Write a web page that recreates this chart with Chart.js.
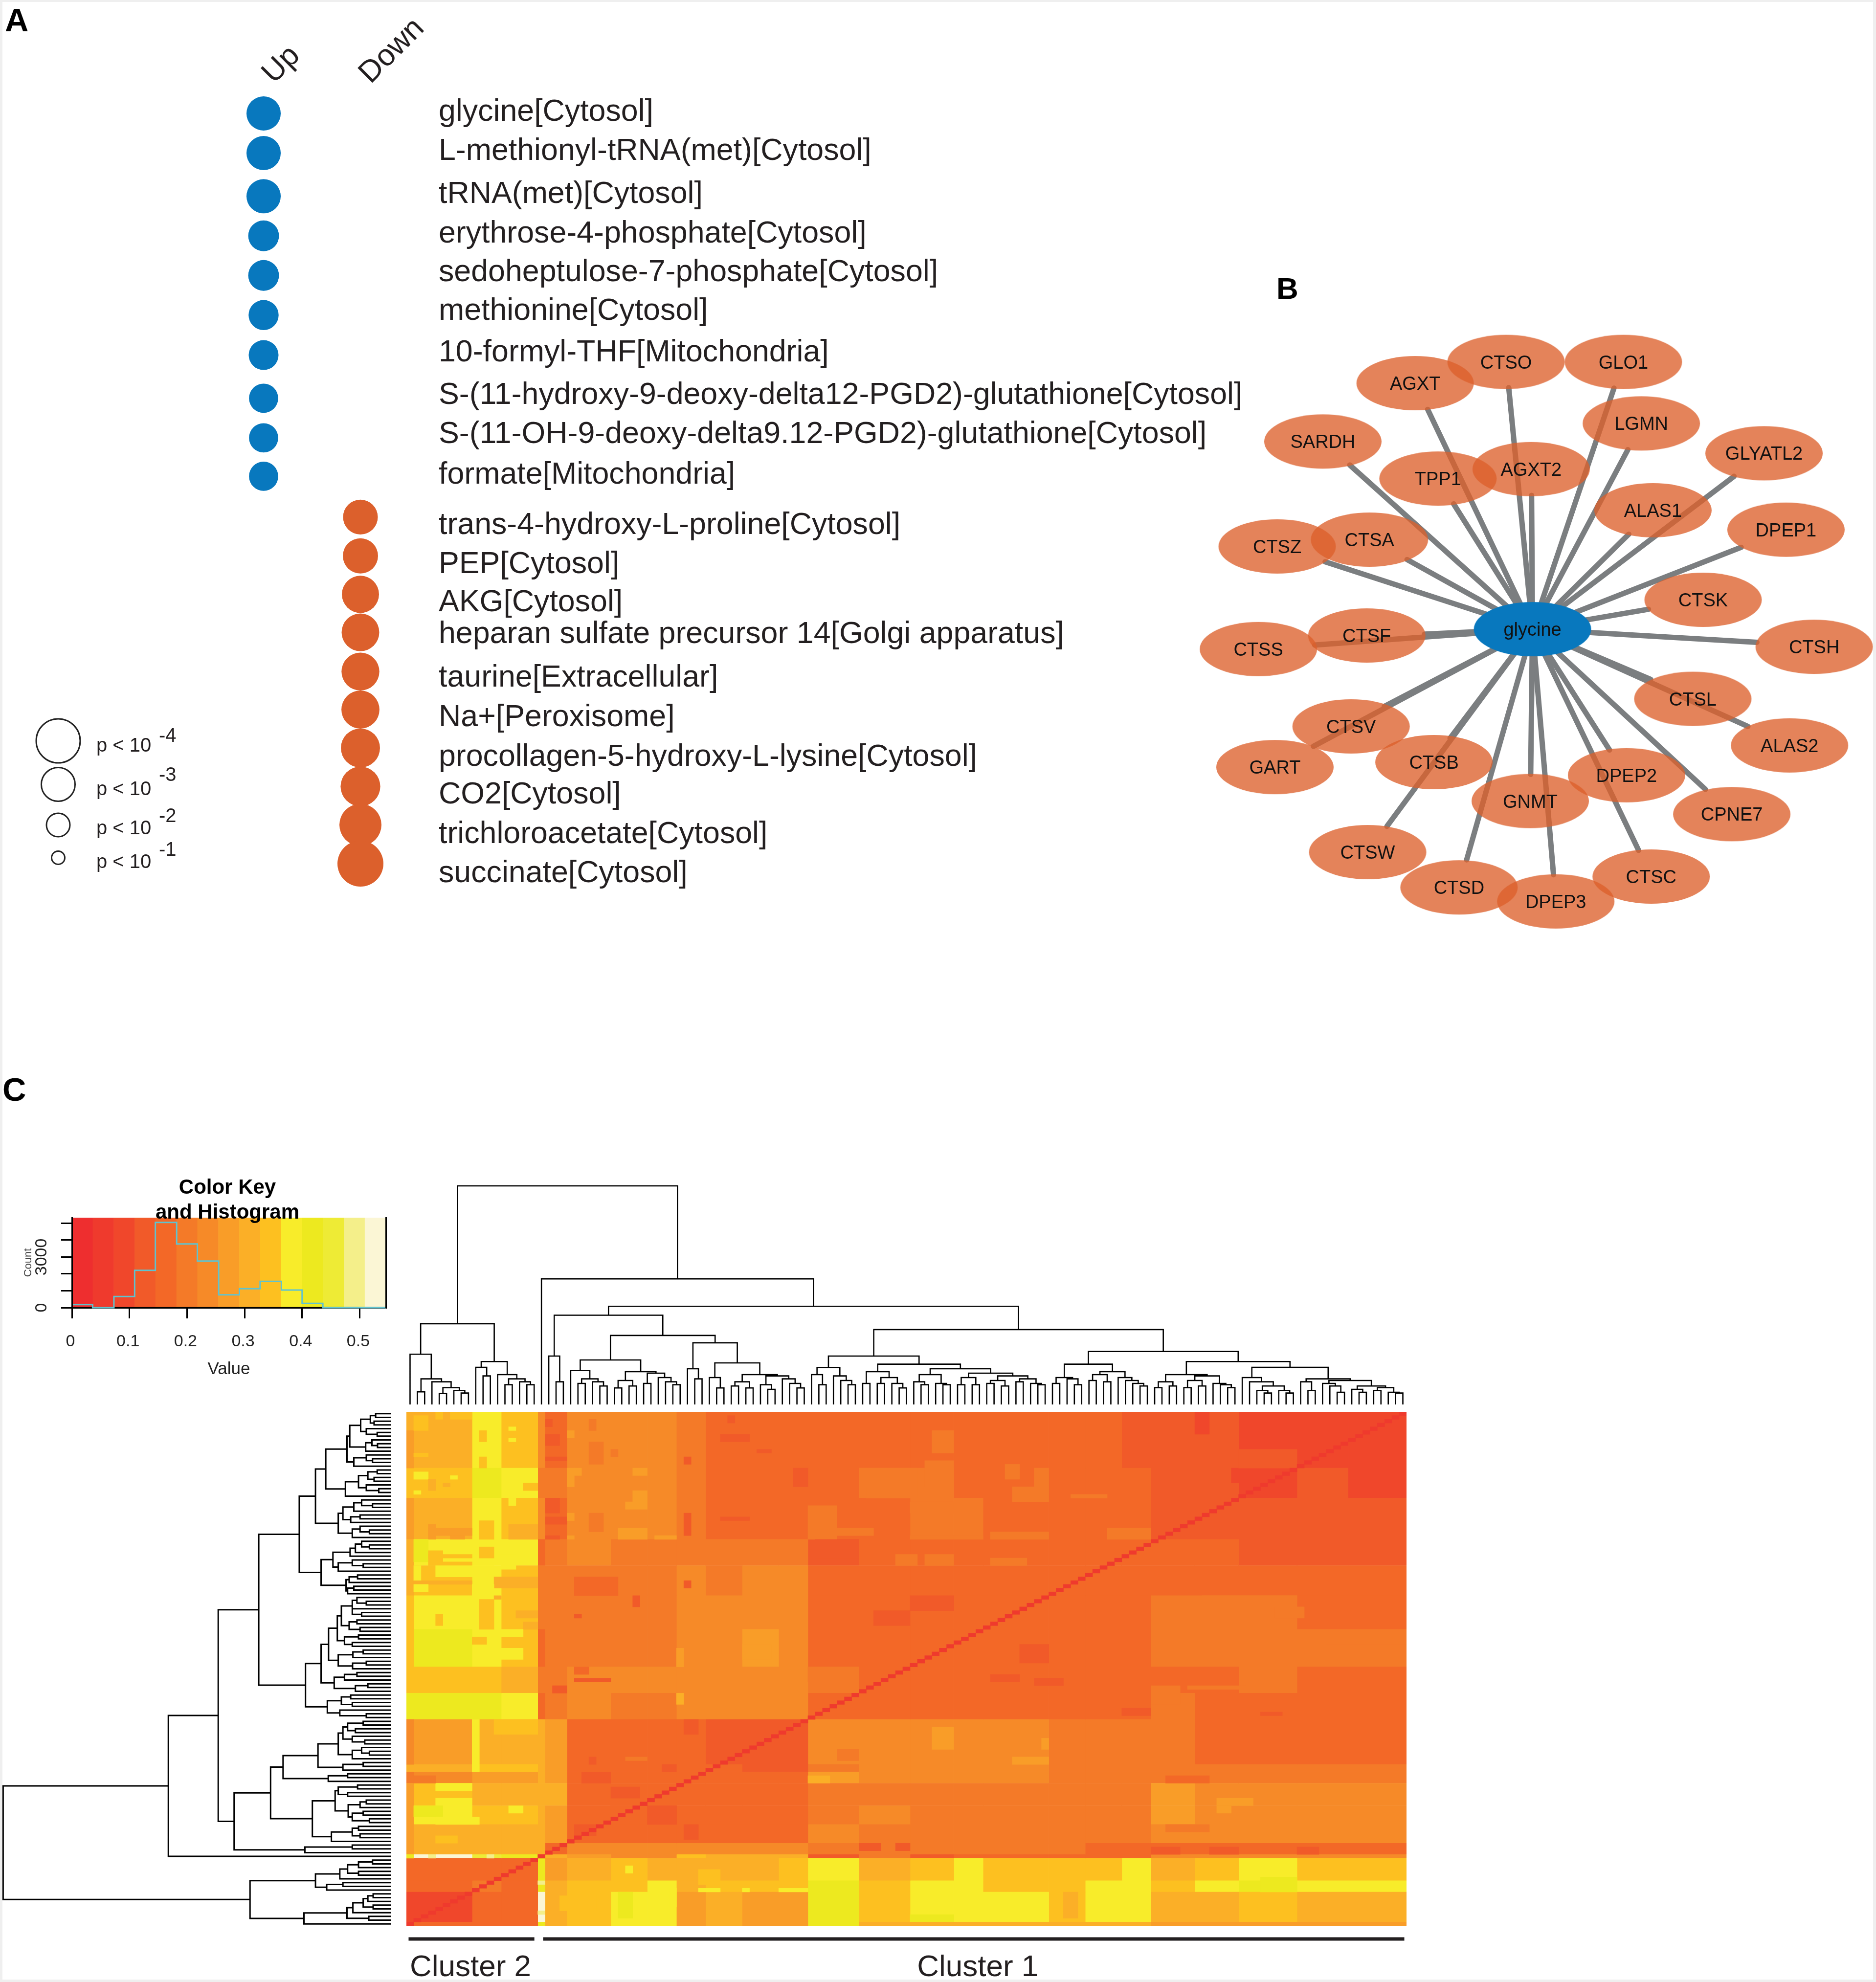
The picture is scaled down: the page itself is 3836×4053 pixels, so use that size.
<!DOCTYPE html>
<html>
<head>
<meta charset="utf-8">
<title>Metabolites, glycine network and clustering</title>
<script src="https://cdn.jsdelivr.net/npm/chart.js@4/dist/chart.umd.min.js"></script>
<style>
  html, body { margin: 0; background: #efefef; }
  #page { position: absolute; left: 5px; top: 4px; width: 3825px; height: 4044px; background: #fff; }
  canvas { position: absolute; }
  .panel { position: absolute; font-family: 'Liberation Sans'; font-weight: bold; line-height: 1; color: #000; }
</style>
</head>
<body>
<div id="page"></div>
<div class="panel" style="left:10px;top:7px;font-size:67px">A</div>
<div class="panel" style="left:2610px;top:559px;font-size:62px">B</div>
<div class="panel" style="left:5px;top:2194px;font-size:67px">C</div>
<canvas id="metabolites" style="left:0;top:0" width="2560" height="1950"></canvas>
<canvas id="pLegend" style="left:0;top:1400px" width="400" height="440"></canvas>
<canvas id="network" style="left:2400px;top:520px" width="1436" height="1450"></canvas>
<canvas id="colorKey" style="left:0;top:2402px" width="900" height="440"></canvas>
<canvas id="colDendro" style="left:831px;top:2380px" width="2045" height="492"></canvas>
<canvas id="rowDendro" style="left:0;top:2887px" width="800" height="1051"></canvas>
<canvas id="heatmap" style="left:831px;top:2887px" width="2045" height="1051"></canvas>
<canvas id="clusters" style="left:831px;top:3950px" width="2045" height="100"></canvas>
<script>
// panel A: metabolites, rows are read in units of one row pitch
const metaboliteNames = ['glycine[Cytosol]', 'L-methionyl-tRNA(met)[Cytosol]', 'tRNA(met)[Cytosol]', 'erythrose-4-phosphate[Cytosol]',
  'sedoheptulose-7-phosphate[Cytosol]', 'methionine[Cytosol]', '10-formyl-THF[Mitochondria]',
  'S-(11-hydroxy-9-deoxy-delta12-PGD2)-glutathione[Cytosol]', 'S-(11-OH-9-deoxy-delta9.12-PGD2)-glutathione[Cytosol]',
  'formate[Mitochondria]', 'trans-4-hydroxy-L-proline[Cytosol]', 'PEP[Cytosol]', 'AKG[Cytosol]',
  'heparan sulfate precursor 14[Golgi apparatus]', 'taurine[Extracellular]', 'Na+[Peroxisome]',
  'procollagen-5-hydroxy-L-lysine[Cytosol]', 'CO2[Cytosol]', 'trichloroacetate[Cytosol]', 'succinate[Cytosol]'];
const labelRows = [-0.03, 0.96, 2.05, 3.04, 4.02, 5.0, 6.04, 7.12, 8.11, 9.13, 10.41, 11.39, 12.36, 13.16, 14.26, 15.26, 16.26, 17.21, 18.21, 19.2];
const upRows = [0, 1, 2.09, 3.09, 4.09, 5.09, 6.1, 7.19, 8.19, 9.16];
const upLogP = [3.05, 3.05, 3.05, 2.71, 2.71, 2.64, 2.62, 2.56, 2.56, 2.56];
const downRows = [10.19, 11.17, 12.14, 13.1, 14.09, 15.05, 16.02, 16.99, 17.96, 18.94];
const downLogP = [3.1, 3.14, 3.33, 3.38, 3.4, 3.42, 3.52, 3.58, 3.81, 4.19];
const directionNames = ['Up', 'Down'];

// p value legend
const legendExponents = [4, 3, 2, 1];
const legendCircleRows = [65, 154, 237, 304];
const legendTextRows = [76, 165, 245, 314];
const legendExpRows = [56, 136, 220, 289];

// panel B: network layout
const hubName = 'glycine';
const hubX = [801];
const hubY = [829];
const nodeNames = ['CTSO', 'GLO1', 'AGXT', 'LGMN', 'SARDH', 'GLYATL2', 'TPP1', 'AGXT2', 'ALAS1', 'DPEP1', 'CTSZ', 'CTSA', 'CTSK', 'CTSH', 'CTSS',
  'CTSF', 'CTSL', 'ALAS2', 'CTSV', 'GART', 'CTSB', 'DPEP2', 'GNMT', 'CPNE7', 'CTSW', 'CTSC', 'CTSD', 'DPEP3'];
const nodeX = [742, 1004, 539, 1044, 333, 1318, 590, 798, 1070, 1367, 231, 437, 1182, 1430, 189, 431, 1159, 1375, 396, 226, 581, 1011, 796, 1246, 433, 1066, 637, 853];
const nodeY = [238, 238, 285, 374, 414, 440, 496, 475, 566, 609, 646, 631, 764, 868, 873, 843, 983, 1086, 1044, 1134, 1123, 1152, 1209, 1238, 1322, 1376, 1400, 1431];
const edgeEndX = [748, 983, 567, 1014, 393, 1251, 625, 799, 1016, 1267, 338, 521, 1060, 1302, 315, 560, 1065, 1282, 470, 312, 617, 973, 797, 1187, 476, 1038, 654, 848];
const edgeEndY = [295, 296, 343, 432, 466, 491, 552, 533, 619, 648, 680, 675, 785, 858, 864, 840, 940, 1044, 1000, 1088, 1070, 1096, 1150, 1183, 1265, 1318, 1339, 1372];

// panel C: colour key and histogram
const keyColors = ['#ee2e2f', '#ef3a2d', '#f0472b', '#f15a29', '#f36827', '#f47a28', '#f68a28', '#f99d28', '#fbaf27', '#fdc020', '#f8ec2a', '#ede91f', '#eeeb35', '#f4ef8a', '#fbf6d5'];
const histBreaks = [0, 0.036, 0.073, 0.109, 0.145, 0.182, 0.218, 0.255, 0.291, 0.327, 0.364, 0.4, 0.436, 0.473, 0.509, 0.5455];
const histCounts = [180, 0, 660, 2210, 5050, 3770, 2760, 760, 1120, 1560, 1040, 250, 0, 0, 0, 0];
const valueTicks = [0, 0.1, 0.2, 0.3, 0.4, 0.5];
const countTicks = [0, 1000, 2000, 3000, 4000, 5000];
const countTop = 5330;

// panel C: heatmap blocks, each entry is a colour key bin
const leafCount = 137;
const columnEdges = [0, 9, 13, 18, 19, 22, 28, 33, 37, 41, 46, 51, 55, 62, 69, 75, 79, 88, 93, 98, 102, 108, 114, 122, 129, 137];
const rowEdges = [0, 15, 23, 34, 41, 49, 58, 68, 75, 82, 94, 96, 99, 105, 110, 115, 118, 119, 125, 128, 137];
const heatBins = [
  [8, 10, 9, 6, 4, 6, 6, 6, 5, 4, 4, 4, 4, 4, 4, 4, 4, 4, 4, 3, 3, 3, 2, 2, 2],
  [9, 11, 10, 5, 5, 6, 6, 6, 5, 4, 4, 4, 4, 5, 5, 4, 4, 4, 4, 4, 3, 3, 2, 3, 2],
  [8, 10, 9, 6, 4, 6, 6, 6, 5, 4, 4, 4, 4, 4, 5, 5, 4, 4, 4, 4, 3, 3, 3, 3, 3],
  [10, 10, 10, 4, 5, 6, 5, 5, 5, 5, 5, 5, 3, 4, 4, 4, 4, 4, 4, 4, 4, 4, 3, 3, 3],
  [9, 10, 9, 5, 5, 5, 5, 5, 6, 5, 6, 6, 4, 4, 4, 4, 4, 4, 4, 4, 4, 4, 4, 4, 4],
  [10, 10, 9, 5, 5, 5, 5, 5, 6, 6, 6, 6, 4, 4, 4, 4, 4, 4, 4, 4, 5, 5, 5, 4, 4],
  [11, 10, 9, 4, 5, 5, 5, 5, 6, 6, 7, 6, 4, 4, 4, 4, 4, 4, 4, 4, 5, 5, 5, 5, 5],
  [9, 9, 8, 5, 5, 6, 6, 6, 6, 6, 6, 6, 5, 4, 4, 4, 4, 4, 4, 4, 4, 4, 5, 4, 4],
  [11, 11, 10, 4, 5, 6, 5, 5, 6, 6, 6, 6, 4, 4, 4, 4, 4, 4, 4, 4, 5, 4, 4, 4, 4],
  [7, 8, 8, 8, 7, 4, 4, 4, 4, 3, 3, 3, 6, 6, 6, 6, 6, 5, 5, 5, 5, 4, 4, 4, 4],
  [8, 9, 9, 8, 7, 4, 4, 4, 4, 4, 3, 3, 5, 6, 6, 6, 6, 5, 5, 5, 5, 5, 5, 5, 5],
  [6, 7, 7, 8, 7, 4, 4, 4, 4, 4, 4, 4, 7, 6, 6, 6, 6, 5, 5, 5, 5, 5, 5, 5, 5],
  [9, 8, 8, 8, 8, 4, 4, 4, 4, 4, 4, 4, 5, 5, 5, 5, 5, 5, 5, 5, 7, 6, 6, 6, 6],
  [10, 9, 9, 8, 7, 4, 4, 3, 4, 4, 4, 4, 5, 6, 5, 5, 5, 5, 5, 5, 7, 6, 6, 6, 6],
  [8, 8, 8, 8, 7, 4, 4, 4, 4, 4, 4, 4, 6, 5, 5, 5, 5, 5, 5, 5, 6, 6, 6, 6, 6],
  [8, 8, 8, 8, 4, 6, 6, 6, 6, 6, 6, 6, 5, 5, 5, 5, 5, 5, 4, 4, 4, 4, 4, 4, 4],
  [14, 12, 11, 0, 8, 7, 6, 6, 9, 8, 8, 8, 3, 5, 3, 4, 4, 4, 4, 4, 6, 6, 6, 6, 6],
  [4, 4, 4, 11, 7, 8, 9, 8, 8, 8, 8, 9, 10, 8, 9, 10, 9, 9, 9, 10, 8, 9, 10, 9, 9],
  [4, 5, 4, 11, 8, 9, 9, 10, 8, 9, 9, 9, 11, 9, 10, 10, 9, 9, 10, 10, 9, 10, 11, 10, 10],
  [2, 4, 4, 14, 8, 9, 10, 10, 7, 8, 7, 7, 11, 9, 10, 10, 10, 9, 10, 10, 8, 8, 9, 8, 8]
];
// smaller patches seen inside the blocks: first column, end column, first row, end row, bin
const heatPatches = [
  [0, 1, 5, 15, 7], [0, 1, 23, 34, 7], [0, 1, 34, 49, 8], [0, 1, 49, 68, 9], [0, 1, 82, 94, 6], [0, 1, 96, 99, 5], [0, 1, 99, 118, 7], [0, 1, 118, 119, 11],
  [1, 3, 1, 5, 9], [4, 5, 0, 2, 9], [6, 9, 0, 2, 9], [1, 3, 11, 12, 9], [10, 11, 5, 8, 9], [10, 11, 12, 15, 9], [14, 15, 4, 5, 10], [14, 15, 7, 8, 10],
  [1, 3, 16, 18, 10], [6, 7, 17, 18, 10], [3, 4, 18, 21, 8], [5, 6, 19, 20, 8], [16, 18, 19, 21, 9], [1, 2, 21, 22, 10], [14, 15, 23, 25, 10],
  [3, 9, 31, 33, 7], [3, 4, 30, 34, 7], [6, 8, 33, 34, 7], [14, 18, 30, 34, 8], [10, 12, 29, 34, 9], [1, 3, 34, 40, 11], [3, 5, 37, 40, 9], [3, 9, 38, 39, 9],
  [3, 9, 40, 41, 9], [10, 12, 36, 39, 9], [13, 15, 38, 42, 10], [1, 2, 41, 45, 10], [4, 12, 41, 44, 10], [1, 9, 45, 46, 8], [12, 18, 44, 47, 8],
  [1, 3, 46, 48, 10], [9, 12, 46, 49, 10], [12, 13, 49, 50, 8], [10, 12, 50, 58, 9], [15, 18, 53, 55, 8], [16, 18, 56, 58, 8], [4, 5, 54, 57, 9],
  [13, 16, 58, 60, 10], [9, 11, 60, 62, 9], [13, 16, 63, 66, 10], [4, 7, 63, 65, 11], [9, 10, 82, 96, 10], [12, 18, 82, 86, 9], [11, 18, 94, 96, 9],
  [4, 9, 99, 101, 10], [4, 9, 103, 105, 10], [1, 5, 105, 108, 11], [4, 10, 108, 110, 10], [14, 16, 105, 107, 10], [1, 4, 97, 99, 5], [4, 7, 113, 115, 9],
  [3, 4, 118, 119, 13], [11, 12, 118, 119, 13], [18, 19, 125, 126, 13], [18, 19, 133, 134, 13], [18, 19, 136, 137, 11], [0, 1, 136, 137, 3], [1, 18, 136, 137, 4],
  [19, 20, 2, 4, 3], [19, 21, 6, 9, 3], [19, 22, 12, 13, 3], [19, 21, 23, 27, 3], [19, 22, 28, 30, 3], [19, 21, 33, 34, 3], [22, 23, 5, 7, 7], [22, 23, 15, 20, 7],
  [23, 24, 15, 17, 7], [22, 23, 27, 29, 7], [22, 23, 33, 34, 7], [25, 26, 2, 5, 5], [25, 27, 8, 14, 5], [25, 27, 27, 32, 5], [28, 29, 10, 12, 5],
  [30, 33, 24, 26, 7], [29, 33, 31, 34, 7], [31, 33, 15, 17, 7], [31, 33, 21, 24, 7], [34, 37, 33, 34, 7], [38, 39, 27, 33, 3], [38, 39, 12, 14, 3],
  [43, 47, 6, 8, 3], [44, 45, 1, 3, 3], [53, 55, 15, 20, 3], [43, 47, 28, 29, 3], [48, 50, 10, 11, 3], [23, 29, 44, 49, 4], [38, 39, 45, 47, 3], [31, 32, 49, 52, 3],
  [23, 24, 54, 55, 3], [46, 50, 62, 66, 7], [37, 38, 63, 68, 7], [20, 22, 73, 75, 3], [23, 25, 68, 70, 4], [23, 28, 71, 72, 3], [37, 38, 75, 78, 8],
  [25, 26, 92, 94, 3], [38, 40, 82, 86, 3], [30, 33, 92, 93, 5], [35, 37, 94, 96, 3], [24, 28, 96, 99, 3], [28, 32, 100, 103, 3], [33, 37, 105, 110, 3],
  [28, 31, 105, 109, 4], [23, 26, 110, 113, 3], [38, 40, 110, 114, 3], [40, 43, 122, 126, 9], [30, 31, 121, 123, 10], [29, 31, 128, 135, 11], [36, 37, 127, 132, 10],
  [21, 26, 129, 133, 9], [40, 43, 127, 128, 10], [46, 47, 127, 128, 10], [51, 55, 127, 128, 10],
  [72, 75, 5, 11, 5], [62, 70, 15, 20, 5], [71, 75, 13, 20, 5], [82, 84, 14, 18, 5], [86, 88, 15, 20, 5], [63, 70, 20, 23, 5], [83, 88, 20, 24, 5], [91, 96, 22, 23, 5],
  [69, 75, 24, 27, 5], [55, 59, 25, 34, 5], [59, 64, 31, 33, 5], [69, 79, 33, 34, 5], [80, 88, 32, 34, 5], [96, 102, 31, 34, 5], [56, 62, 34, 39, 3], [67, 70, 38, 41, 5],
  [71, 75, 38, 41, 5], [80, 85, 39, 41, 5], [69, 75, 49, 53, 3], [64, 69, 53, 57, 3], [84, 88, 62, 67, 3], [80, 84, 70, 72, 3], [86, 90, 71, 73, 3], [55, 62, 68, 72, 5],
  [109, 116, 49, 52, 5], [116, 122, 49, 51, 5], [119, 123, 52, 55, 5], [126, 137, 62, 64, 5], [102, 106, 73, 78, 5], [107, 115, 73, 74, 5], [116, 120, 12, 14, 3],
  [113, 119, 15, 19, 2], [108, 110, 0, 6, 2], [116, 124, 1, 10, 2], [114, 122, 10, 15, 3],
  [72, 75, 84, 90, 7], [87, 88, 87, 90, 7], [55, 58, 97, 99, 8], [59, 62, 90, 93, 5], [83, 88, 92, 94, 7], [111, 116, 103, 105, 7], [111, 113, 105, 107, 7], [104, 110, 110, 112, 5],
  [104, 110, 97, 99, 4], [62, 65, 115, 117, 3], [67, 69, 115, 117, 3], [102, 106, 116, 118, 3], [110, 114, 116, 118, 3], [122, 125, 116, 118, 3], [117, 120, 80, 81, 3],
  [98, 102, 79, 81, 3], [69, 75, 134, 136, 11], [90, 92, 128, 135, 8], [117, 122, 124, 128, 11], [62, 102, 136, 137, 8], [102, 137, 136, 137, 7]
];
const diagonalBin = 1;

// dendrograms: a merge is [height, left, right], a leaf is 0
const colTree = [1340,
  [495,
    [308, 0, [157, [77, 0, 0], [139, 0, [103, [67, 0, 0], [85, 0, [70, 0, 0]]]]]],
    [263, [228, 0, [175, 0, 0]], [183, 0, [157, [121, 0, 0], [139, 0, [121, 0, 0]]]]]],
  [770, 0,
    [602,
      [547,
        [297, 0, [139, 0, 0]],
        [423,
          [273,
            [209, 0, [157, [129, 0, 0], [139, 0, [113, 0, 0]]]],
            [201, [147, [101, 0, 0], [113, 0, 0]], [192, [129, 0, 0], [165, 0, [139, 0, [121, 0, 0]]]]]],
          [378,
            [219, 0, [157, 0, 0]],
            [255,
              [165, 0, [101, 0, 0]],
              [183,
                [139, [113, 0, 0], [101, 0, 0]],
                [175, [121, 0, [93, 0, 0]], [157, 0, [129, 0, [101, 0, 0]]]]]]]]],
      [459,
        [297,
          [227, [183, 0, [121, 0, 0]], [175, 0, [147, 0, [121, 0, 0]]]],
          [247,
            [201, [129, 0, 0], [165, [129, 0, 0], [129, 0, [101, 0, 0]]]],
            [219,
              [183, [139, 0, [121, 0, 0]], [129, 0, [121, 0, 0]]],
              [192,
                [165, [121, 0, 0], [121, 0, 0]],
                [175, [147, [129, 0, 0], [113, 0, 0]], [157, [139, 0, 0], [129, 0, [121, 0, 0]]]]]]]],
        [325,
          [247,
            [165, [129, 0, 0], [157, 0, [121, 0, 0]]],
            [201, [183, [147, 0, 0], [139, 0, 0]], [165, 0, [147, 0, [129, 0, [113, 0, 0]]]]]],
          [263,
            [183,
              [139, [103, 0, 0], [113, 0, 0]],
              [175, [147, [103, 0, 0], [113, 0, 0]], [129, 0, [121, 0, [103, 0, 0]]]]],
            [228,
              [165, 0, [139, 0, [113, [85, 0, [70, 0, 0]], [85, 0, [70, 0, 0]]]]],
              [157,
                [139, 0, [85, 0, 0]],
                [147, [129, 0, [113, 0, [75, 0, 0]]], [113, [93, 0, [75, 0, 0]], [103, [85, 0, 0], [75, 0, [70, 0, 0]]]]]]]]]]]]];

const rowBlockA = [142,
  [133, [98, [67, [50, 0, 0], [55, 0, 0]], [80, 0, [45, 0, 0]]], [82, [62, 0, [44, 0, 0]], 0]],
  [120, [80, 0, [60, 0, 0]], 0]];
const rowBlockB = [147, [105, [75, [45, 0, 0], [55, 0, 0]], [80, 0, [40, 0, 0]]], 0];
const rowBlockC = [170, [155, [120, [95, 0, [60, 0, 0]], 0], [130, [100, 0, 0], 0]], [125, [100, 0, [70, 0, 0]], 0]];
const rowBlockD = [225,
  [187, [132, [115, [95, 0, [70, 0, 0]], 0], 0], [170, [125, 0, [90, 0, 0]], 0]],
  [145, [135, [108, 0, 0], 0], [140, [120, 0, 0], 0]]];
const rowBlockE = [173, [160, [125, [110, 0, [80, 0, 0]], [125, 0, [95, 0, 0]]], [135, [110, 0, 0], [100, 0, 0]]], [150, [105, 0, 0], [125, 0, 0]]];
const rowBlockF = [170, [123, [90, 0, 0], 0], [124, [80, 0, 0], 0]];
const rowBlockG = [183, [150, [110, 0, 0], 0], [115, [75, 0, 0], 0]];
const rowBlockH = [205, [160, [130, 0, 0], [125, 0, 0]], [165, 0, [80, 0, 0]]];
const rowBlockI = [170, [155, [140, [90, 0, 0], [115, 0, 0]], [125, 0, [85, 0, 0]]], [125, [95, 0, [70, 0, 0]], 0]];
const rowBlockL = [180, [170, [108, 0, 0], [140, 0, 0]], [138, [100, [80, 0, 0], 0], [125, [90, 0, 0], [70, 0, 0]]]];
const rowBlockM = [192, [125, [105, 0, 0], [100, 0, 0]], 0];
const rowTree = [1245,
  [715,
    [555,
      [425,
        [295, [243, [210, rowBlockA, rowBlockB], rowBlockC], rowBlockD],
        [275, [225, [201, rowBlockE, rowBlockF], rowBlockG], rowBlockH]],
      [504,
        [387, [347, [235, rowBlockI, [155, [90, 0, 0], 0]], [202, [140, 0, 0], 0]], [253, rowBlockL, rowBlockM]],
        [277, [125, 0, 0], 0]]],
    0],
  [453,
    [243, [165, [140, [105, [60, 0, 0], 0], [105, 0, 0]], 0], [207, [155, 0, 0], 0]],
    [280, [142, [123, [90, [75, [58, 0, 0], 0], [58, 0, 0]], 0], [72, 0, 0]], 0]]];

const clusterNames = ['Cluster 2', 'Cluster 1'];
const clusterStart = [0.15, 18.6];
const clusterEnd = [17.4, 136.7];
const clusterLabelAt = [8.64, 78.2];

const INK = '#231f20';
Chart.defaults.font.family = "'Liberation Sans'";
Chart.defaults.responsive = false;
Chart.defaults.animation = false;
Chart.defaults.devicePixelRatio = 1;
Chart.defaults.layout.autoPadding = false;
Chart.defaults.plugins.legend.display = false;
Chart.defaults.plugins.tooltip.enabled = false;
Chart.defaults.events = [];

// radius in px for a given -log10(p)
function pRadius(v) { return 3 + 10.5 * v; }

function fixedTicks(values) {
  return function (scale) { scale.ticks = values.map(function (v) { return { value: v }; }); };
}

new Chart(document.getElementById('metabolites'), {
  type: 'bubble',
  data: {
    datasets: [
      { data: upRows.map(function (r, i) { return { x: 0, y: r, r: pRadius(upLogP[i]) }; }), backgroundColor: '#0878be', borderWidth: 0, clip: false },
      { data: downRows.map(function (r, i) { return { x: 1, y: r, r: pRadius(downLogP[i]) }; }), backgroundColor: '#dc602c', borderWidth: 0, clip: false }
    ]
  },
  options: {
    layout: { padding: { left: 539, bottom: 50 } },
    scales: {
      x: {
        type: 'linear', position: 'top', min: 0, max: 1.803,
        afterBuildTicks: fixedTicks([0.31, 1.31]),
        afterFit: function (s) { s.height = 190; },
        grid: { display: false, drawTicks: false }, border: { display: false },
        ticks: {
          autoSkip: false, minRotation: 45, maxRotation: 45, padding: 3, color: INK, font: { size: 62 },
          callback: function (v, i) { return directionNames[i]; }
        }
      },
      y: {
        type: 'linear', position: 'right', reverse: true, min: -0.5185, max: 20.593,
        afterBuildTicks: fixedTicks(labelRows),
        afterFit: function (s) { s.width = 1664; },
        grid: { display: false, drawTicks: false }, border: { display: false },
        ticks: {
          autoSkip: false, padding: 1, color: INK, font: { size: 62.7 },
          callback: function (v, i) { return metaboliteNames[i]; }
        }
      }
    }
  }
});

new Chart(document.getElementById('pLegend'), {
  type: 'bubble',
  data: {
    datasets: [{
      data: legendExponents.map(function (e, i) { return { x: 119, y: legendCircleRows[i], r: pRadius(e) }; }),
      backgroundColor: 'rgba(0,0,0,0)', borderColor: '#222', borderWidth: 3, clip: false
    }]
  },
  options: {
    layout: { padding: { top: 50, bottom: 50 } },
    scales: {
      x: { type: 'linear', display: false, min: 0, max: 190 },
      y: {
        type: 'linear', position: 'right', weight: 0, reverse: true, min: 0, max: 340,
        afterBuildTicks: fixedTicks(legendTextRows),
        afterFit: function (s) { s.width = 128; },
        grid: { display: false, drawTicks: false }, border: { display: false },
        ticks: { autoSkip: false, padding: 7, color: INK, font: { size: 40 }, callback: function () { return 'p < 10'; } }
      },
      y2: {
        type: 'linear', position: 'right', weight: 1, reverse: true, min: 0, max: 340,
        afterBuildTicks: fixedTicks(legendExpRows),
        afterFit: function (s) { s.width = 82; },
        grid: { display: false, drawTicks: false }, border: { display: false },
        ticks: { autoSkip: false, padding: 7, color: INK, font: { size: 40 }, callback: function (v, i) { return '-' + legendExponents[i]; } }
      }
    }
  }
});

// oval node picture used as the point style
function nodeSprite(fill) {
  const c = document.createElement('canvas');
  c.width = 242; c.height = 113;
  const g = c.getContext('2d');
  g.fillStyle = fill;
  g.beginPath();
  g.ellipse(121, 56.5, 120, 55.5, 0, 0, Math.PI * 2);
  g.fill();
  return c;
}

const nodeLabels = {
  id: 'nodeLabels',
  afterDatasetsDraw: function (chart) {
    const ctx = chart.ctx;
    ctx.save();
    ctx.font = "38px 'Liberation Sans'";
    ctx.fillStyle = '#111';
    ctx.textAlign = 'center';
    ctx.textBaseline = 'middle';
    chart.getDatasetMeta(0).data.forEach(function (el) { ctx.fillText(hubName, el.x, el.y + 3); });
    chart.getDatasetMeta(1).data.forEach(function (el, i) { ctx.fillText(nodeNames[i], el.x, el.y + 3); });
    ctx.restore();
  }
};

const edgeSets = nodeNames.map(function (n, i) {
  return {
    type: 'line', label: n,
    data: [{ x: hubX[0], y: hubY[0] }, { x: edgeEndX[i], y: edgeEndY[i] }],
    borderColor: '#7b7e80', borderWidth: 11, borderCapStyle: 'round', pointRadius: 0
  };
});

new Chart(document.getElementById('network'), {
  type: 'scatter',
  data: {
    datasets: [
      { data: [{ x: hubX[0], y: hubY[0] }], pointStyle: nodeSprite('#0878be'), pointRadius: 10 },
      { data: nodeNames.map(function (n, i) { return { x: nodeX[i], y: nodeY[i] }; }), pointStyle: nodeSprite('rgba(220,96,44,0.78)'), pointRadius: 10 }
    ].concat(edgeSets)
  },
  options: {
    scales: {
      x: { type: 'linear', display: false, min: 0, max: 1568 },
      y: { type: 'linear', display: false, reverse: true, min: 0, max: 1568 }
    }
  },
  plugins: [nodeLabels]
});

const keyTitle = {
  id: 'keyTitle',
  afterDatasetsDraw: function (chart) {
    const ctx = chart.ctx, a = chart.chartArea;
    ctx.save();
    ctx.font = "bold 42px 'Liberation Sans'";
    ctx.fillStyle = '#000';
    ctx.textAlign = 'center';
    ctx.textBaseline = 'middle';
    ctx.fillText('Color Key', 465, a.top - 61);
    ctx.fillText('and Histogram', 465, a.top - 10);
    ctx.restore();
  }
};

new Chart(document.getElementById('colorKey'), {
  type: 'bar',
  data: {
    labels: keyColors.map(function (c, i) { return 'bin' + i; }),
    datasets: [
      { type: 'line', xAxisID: 'x', data: histBreaks.map(function (b, i) { return { x: b, y: histCounts[i] }; }), stepped: 'before', borderColor: '#5fc3cf', borderWidth: 3, pointRadius: 0, clip: false },
      { xAxisID: 'xBins', grouped: false, data: keyColors.map(function () { return countTop; }), backgroundColor: keyColors, barThickness: 642 / keyColors.length, borderWidth: 0 }
    ]
  },
  options: {
    layout: { padding: { top: 88, right: 111 } },
    scales: {
      x: {
        type: 'linear', position: 'bottom', offset: false, min: 0, max: 0.5455,
        afterBuildTicks: fixedTicks(valueTicks),
        afterFit: function (s) { s.height = 168; },
        grid: { offset: false, drawOnChartArea: false, tickLength: 22, lineWidth: 3, color: '#000' },
        border: { color: '#000', width: 4 },
        ticks: { autoSkip: false, maxRotation: 0, padding: 27, labelOffset: -3, color: '#222', font: { size: 34 }, callback: function (v) { return String(v); } },
        title: { display: true, text: 'Value', color: '#222', font: { size: 35 }, padding: { top: 0, bottom: 21 } }
      },
      xBins: { type: 'category', display: false, offset: true },
      y: {
        position: 'left', min: 0, max: countTop,
        afterBuildTicks: fixedTicks(countTicks),
        afterFit: function (s) { s.width = 147; },
        grid: { drawOnChartArea: false, tickLength: 22, lineWidth: 3, color: '#000' },
        border: { color: '#000', width: 3, z: 1 },
        ticks: {
          autoSkip: false, minRotation: 90, maxRotation: 90, crossAlign: 'center', padding: 2, color: '#222', font: { size: 34 },
          callback: function (v) { return (v === 0 || v === 3000) ? String(v) : ''; }
        },
        title: { display: true, text: 'Count', color: '#444', font: { size: 22 }, padding: { top: 45, bottom: 0 } }
      },
      yRight: {
        position: 'right', min: 0, max: countTop,
        afterFit: function (s) { s.width = 0; },
        grid: { drawOnChartArea: false, drawTicks: false },
        border: { color: '#000', width: 3, z: 1 },
        ticks: { display: false }
      }
    }
  },
  plugins: [keyTitle]
});

// walk a merge tree into one broken line of U shapes
function treeLine(tree, horizontal) {
  const pts = [];
  let next = 0;
  function put(pos, h) { pts.push(horizontal ? { x: h, y: pos } : { x: pos, y: h }); }
  function walk(node) {
    if (node === 0) { next++; return { pos: next - 0.5, h: 0 }; }
    const a = walk(node[1]), b = walk(node[2]);
    put(a.pos, a.h); put(a.pos, node[0]); put(b.pos, node[0]); put(b.pos, b.h);
    pts.push({ x: null, y: null });
    return { pos: (a.pos + b.pos) / 2, h: node[0] };
  }
  walk(tree);
  return pts;
}

new Chart(document.getElementById('colDendro'), {
  type: 'line',
  data: { datasets: [{ data: treeLine(colTree, false), borderColor: '#000', borderWidth: 2.6, pointRadius: 0, spanGaps: false, clip: false }] },
  options: { scales: {
    x: { type: 'linear', display: false, min: 0, max: leafCount },
    y: { type: 'linear', display: false, min: 0, max: 1475 }
  } }
});

new Chart(document.getElementById('rowDendro'), {
  type: 'line',
  data: { datasets: [{ data: treeLine(rowTree, true), borderColor: '#000', borderWidth: 3, pointRadius: 0, spanGaps: false, clip: false }] },
  options: { scales: {
    x: { type: 'linear', display: false, reverse: true, min: 0, max: 1255 },
    y: { type: 'linear', display: false, reverse: true, min: 0, max: leafCount }
  } }
});

// one floating bar per block, one dataset per column group
const leafWidth = 2045 / leafCount;
function heatBar(left, right, top, bottom, bin) {
  return {
    grouped: false,
    barThickness: (right - left) * leafWidth,
    borderWidth: 0,
    data: [{ x: (left + right) / 2, y: [top, bottom] }],
    backgroundColor: keyColors[bin]
  };
}
const heatSets = columnEdges.slice(0, -1).map(function (left, c) {
  const right = columnEdges[c + 1];
  return {
    grouped: false,
    barThickness: (right - left) * leafWidth,
    borderWidth: 0,
    data: heatBins.map(function (row, r) { return { x: (left + right) / 2, y: [rowEdges[r], rowEdges[r + 1]] }; }),
    backgroundColor: heatBins.map(function (row) { return keyColors[row[c]]; })
  };
});
// the first dataset is painted last, so later patches must come first
const patchSets = heatPatches.map(function (p) { return heatBar(p[0], p[1], p[2], p[3], p[4]); }).reverse();
const diagonalCells = [];
for (let i = 0; i < leafCount; i++) diagonalCells.push({ x: i + 0.5, y: [leafCount - 1 - i, leafCount - i] });
const diagonalSet = { grouped: false, barThickness: leafWidth, borderWidth: 0, data: diagonalCells, backgroundColor: keyColors[diagonalBin] };

new Chart(document.getElementById('heatmap'), {
  type: 'bar',
  data: { datasets: [diagonalSet].concat(patchSets, heatSets) },
  options: { scales: {
    x: { type: 'linear', display: false, offset: false, grid: { offset: false }, min: 0, max: leafCount },
    y: { type: 'linear', display: false, reverse: true, min: 0, max: leafCount }
  } }
});

new Chart(document.getElementById('clusters'), {
  type: 'line',
  data: {
    datasets: clusterNames.map(function (n, i) {
      return { label: n, data: [{ x: clusterStart[i], y: 0.5 }, { x: clusterEnd[i], y: 0.5 }], borderColor: INK, borderWidth: 7, pointRadius: 0 };
    })
  },
  options: { scales: {
    x: {
      type: 'linear', position: 'bottom', min: 0, max: leafCount,
      afterBuildTicks: fixedTicks(clusterLabelAt),
      afterFit: function (s) { s.height = 70; },
      grid: { display: false, drawTicks: false }, border: { display: false },
      ticks: { autoSkip: false, maxRotation: 0, padding: 7, color: INK, font: { size: 62 }, callback: function (v, i) { return clusterNames[i]; } }
    },
    y: { type: 'linear', display: false, min: 0, max: 1 }
  } }
});
</script>
</body>
</html>
